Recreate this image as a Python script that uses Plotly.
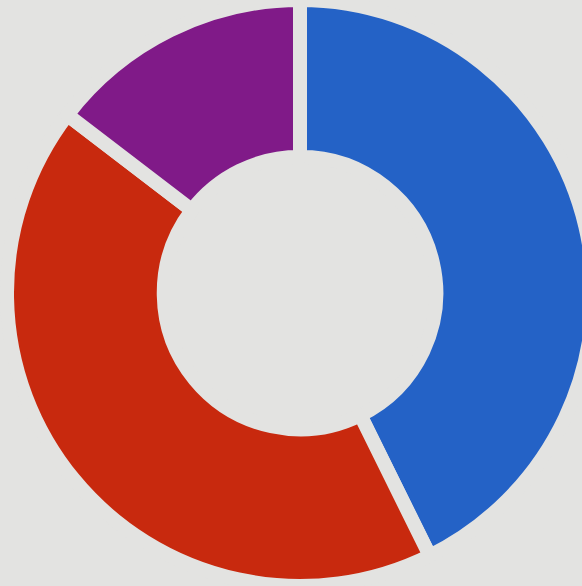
import plotly.graph_objects as go

labels = ["Blue", "Red", "Purple"]
values = [42.7, 42.7, 14.6]
colors = ["#2462c6", "#c8290e", "#801a88"]

bg = "#e3e3e1"

fig = go.Figure(go.Pie(
    labels=labels,
    values=values,
    hole=0.465,
    sort=False,
    direction="clockwise",
    rotation=0,
    marker=dict(colors=colors, line=dict(color=bg, width=14)),
    textinfo="none",
    hoverinfo="label+percent",
    showlegend=False,
))

fig.update_layout(
    width=600,
    height=586,
    margin=dict(l=0, r=0, t=0, b=0),
    paper_bgcolor=bg,
    plot_bgcolor=bg,
    showlegend=False,
)

post = (
    "document.body.style.margin='0';"
    "document.body.style.overflow='hidden';"
    f"document.body.style.backgroundColor='{bg}';"
    f"document.documentElement.style.backgroundColor='{bg}';"
)

fig.write_html("out.html", post_script=post, config={"displayModeBar": False})
